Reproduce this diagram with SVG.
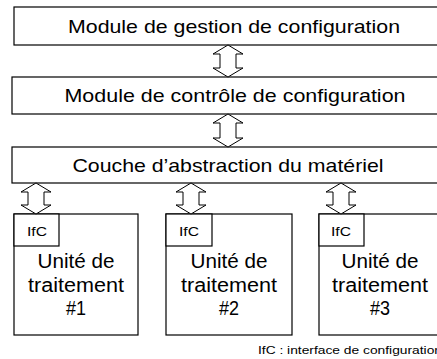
<svg xmlns="http://www.w3.org/2000/svg" width="437" height="359" viewBox="0 0 437 359">
<style>
.box{fill:#fff;stroke:#000;stroke-width:1.2}
.arr{fill:#fff;stroke:#000;stroke-width:1;stroke-linejoin:miter}
.t{font-family:"Liberation Sans",Arial,sans-serif;fill:#000;text-anchor:middle}
.big{font-size:19px}
.unit{font-size:19.5px}
.ifc{font-size:12px}
.leg{font-family:"Liberation Sans",Arial,sans-serif;font-size:11px;fill:#000}
</style>
<g id="n1"><rect class="box" x="14" y="7" width="430" height="38"/><text class="t big" x="234" y="33" textLength="332" lengthAdjust="spacingAndGlyphs">Module de gestion de configuration</text></g>
<g id="n2"><rect class="box" x="12" y="77" width="432" height="37"/><text class="t big" x="235" y="102" textLength="341" lengthAdjust="spacingAndGlyphs">Module de contrôle de configuration</text></g>
<g id="n3"><rect class="box" x="12" y="147" width="432" height="36"/><text class="t big" x="228" y="172" textLength="311" lengthAdjust="spacingAndGlyphs">Couche d’abstraction du matériel</text></g>
<g id="u1"><rect class="box" x="14" y="214" width="124" height="121"/><rect class="box" x="14" y="214" width="45" height="32"/><text class="t ifc" x="37" y="236" textLength="20" lengthAdjust="spacingAndGlyphs">IfC</text><text class="t unit" x="76" y="268" textLength="77" lengthAdjust="spacingAndGlyphs">Unité de</text><text class="t unit" x="76" y="292" textLength="96" lengthAdjust="spacingAndGlyphs">traitement</text><text class="t unit" x="76" y="315" textLength="20" lengthAdjust="spacingAndGlyphs">#1</text></g>
<g id="u2"><rect class="box" x="166" y="214" width="126" height="121"/><rect class="box" x="166" y="214" width="46" height="32"/><text class="t ifc" x="189" y="236" textLength="20" lengthAdjust="spacingAndGlyphs">IfC</text><text class="t unit" x="229" y="268" textLength="77" lengthAdjust="spacingAndGlyphs">Unité de</text><text class="t unit" x="229" y="292" textLength="96" lengthAdjust="spacingAndGlyphs">traitement</text><text class="t unit" x="229" y="315" textLength="20" lengthAdjust="spacingAndGlyphs">#2</text></g>
<g id="u3"><rect class="box" x="319" y="214" width="130" height="121"/><rect class="box" x="319" y="214" width="45" height="32"/><text class="t ifc" x="341" y="236" textLength="20" lengthAdjust="spacingAndGlyphs">IfC</text><text class="t unit" x="380" y="268" textLength="77" lengthAdjust="spacingAndGlyphs">Unité de</text><text class="t unit" x="380" y="292" textLength="96" lengthAdjust="spacingAndGlyphs">traitement</text><text class="t unit" x="380" y="315" textLength="20" lengthAdjust="spacingAndGlyphs">#3</text></g>
<g id="connectors">
<path class="arr" d="M228,45 L243,54 L236,54 L236,68 L243,68 L228,77 L213,68 L220,68 L220,54 L213,54 Z"/>
<path class="arr" d="M228,114 L243,123 L236,123 L236,138 L243,138 L228,147 L213,138 L220,138 L220,123 L213,123 Z"/>
<path class="arr" d="M36,183 L51,192 L44,192 L44,205 L51,205 L36,214 L21,205 L28,205 L28,192 L21,192 Z"/>
<path class="arr" d="M191,183 L206,192 L199,192 L199,205 L206,205 L191,214 L176,205 L183,205 L183,192 L176,192 Z"/>
<path class="arr" d="M341,183 L356,192 L349,192 L349,205 L356,205 L341,214 L326,205 L333,205 L333,192 L326,192 Z"/>
</g>
<text class="leg" x="258" y="354" textLength="184" lengthAdjust="spacingAndGlyphs">IfC : interface de configuration</text>
</svg>
